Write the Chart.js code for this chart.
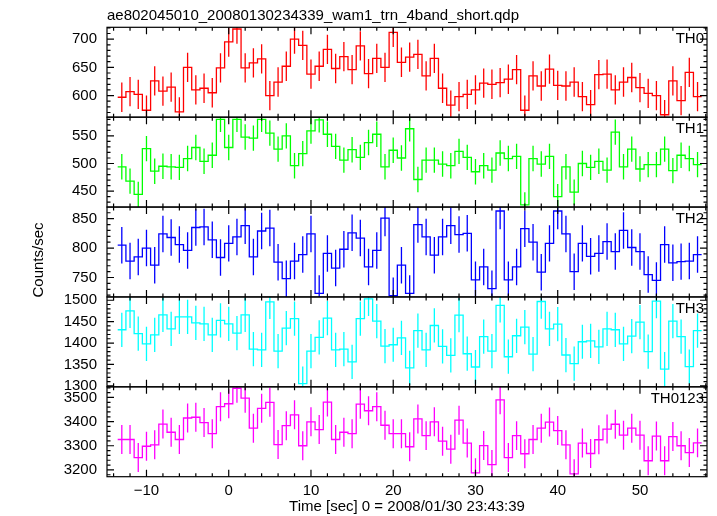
<!DOCTYPE html>
<html>
<head>
<meta charset="utf-8">
<script src="https://cdn.jsdelivr.net/npm/chart.js@4.4.1/dist/chart.umd.min.js"></script>
<style>
html, body { margin: 0; padding: 0; background: #fff; }
canvas { display: block; }
</style>
</head>
<body>
<canvas id="lc" width="717" height="516"></canvas>
<script>
// bin centres (sec), 1 s bins
var times = [-13, -12, -11, -10, -9, -8, -7, -6, -5, -4, -3, -2, -1,
  0, 1, 2, 3, 4, 5, 6, 7, 8, 9, 10, 11, 12, 13, 14, 15, 16, 17, 18, 19,
  20, 21, 22, 23, 24, 25, 26, 27, 28, 29, 30, 31, 32, 33, 34, 35, 36, 37, 38, 39,
  40, 41, 42, 43, 44, 45, 46, 47, 48, 49, 50, 51, 52, 53, 54, 55, 56, 57];
var binHalf = 0.5;

var th0 = [597, 607, 602, 574, 626, 608, 615, 571, 650, 610, 613, 605, 649,
  695, 718, 649, 658, 665, 600, 624, 652, 700, 689,
  638, 652, 682, 648, 669, 646, 688, 639, 666, 650,
  712, 659, 668, 673, 635, 666, 613, 583, 598, 602,
  610, 622, 620, 623, 629, 646, 574, 635, 617, 647,
  618, 617, 624, 598, 584, 637, 638, 610, 624, 632,
  614, 604, 600, 566, 626, 591, 641, 598];
var th1 = [494, 468, 444, 527, 486, 495, 494, 493, 509, 529, 504, 515, 580,
  529, 580, 548, 546, 580, 555, 526, 550, 496, 518,
  559, 579, 553, 531, 506, 525, 511, 538, 553, 494,
  524, 510, 563, 471, 506, 506, 499, 496, 522, 511,
  485, 496, 488, 519, 509, 513, 425, 509, 499, 513,
  440, 494, 448, 500, 493, 504, 488, 557, 494, 526,
  490, 498, 498, 526, 487, 515, 509, 498];
var th2 = [805, 778, 785, 800, 771, 824, 818, 806, 796, 835, 836, 814, 784,
  808, 819, 838, 785, 829, 834, 776, 748, 778, 789,
  824, 723, 791, 766, 798, 826, 817, 768, 796, 851,
  719, 771, 723, 840, 819, 788, 819, 838, 823, 825,
  746, 768, 731, 863, 746, 768, 833, 810, 759, 808,
  863, 824, 760, 808, 786, 791, 811, 794, 830, 801,
  794, 755, 745, 806, 775, 777, 778, 789];
var th3 = [1431, 1475, 1422, 1398, 1419, 1466, 1433, 1461, 1461, 1447, 1445, 1419, 1453,
  1445, 1423, 1466, 1386, 1384, 1496, 1381, 1435, 1457, 1305,
  1381, 1413, 1458, 1384, 1386, 1356, 1457, 1503, 1451, 1393,
  1396, 1412, 1342, 1429, 1384, 1441, 1392, 1371, 1465, 1375,
  1344, 1415, 1381, 1488, 1368, 1417, 1437, 1374, 1497, 1433,
  1444, 1372, 1352, 1403, 1405, 1391, 1433, 1431, 1398, 1416,
  1449, 1380, 1498, 1339, 1451, 1415, 1345, 1429];
var th0123 = [3326, 3326, 3251, 3298, 3304, 3390, 3356, 3326, 3415, 3418, 3396, 3350, 3462,
  3474, 3538, 3497, 3373, 3455, 3480, 3305, 3383, 3428, 3300,
  3399, 3367, 3481, 3326, 3356, 3350, 3472, 3445, 3462, 3385,
  3350, 3350, 3296, 3411, 3342, 3399, 3319, 3286, 3406, 3311,
  3188, 3301, 3222, 3490, 3251, 3342, 3267, 3326, 3373, 3398,
  3363, 3304, 3184, 3311, 3268, 3325, 3369, 3389, 3344, 3373,
  3344, 3238, 3340, 3238, 3338, 3300, 3272, 3312];

// 1-sigma errors (roughly constant per band)
var errs = [26, 23, 31, 40, 60];

var xTicks = [-10, 0, 10, 20, 30, 40, 50];
var yTicks = [[600, 650, 700], [450, 500, 550], [750, 800, 850],
  [1300, 1350, 1400, 1450, 1500], [3200, 3300, 3400, 3500]];
var yMinor = [10, 10, 10, 10, 20];
var yRange = [[561.7, 721], [421, 584], [717, 869.7], [1297.7, 1507.7], [3172, 3544]];

var names = ['TH0', 'TH1', 'TH2', 'TH3', 'TH0123'];
var colors = ['#ff0000', '#00ff00', '#0000ff', '#00ffff', '#ff00ff'];
var series = [th0, th1, th2, th3, th0123];

var FONT = "'Liberation Sans', Arial, Helvetica, sans-serif";

function stepData(vals) {
  var pts = times.map(function (t, i) { return {x: t - binHalf, y: vals[i]}; });
  pts.push({x: times[times.length - 1] + binHalf, y: vals[vals.length - 1]});
  return pts;
}

function errData(vals, e) {
  var pts = [];
  times.forEach(function (t, i) {
    pts.push({x: t, y: vals[i] - e}, {x: t, y: vals[i] + e}, {x: t, y: null});
  });
  return pts;
}

var datasets = [];
var scales = {
  x: {
    type: 'linear', position: 'bottom', min: -14.8, max: 58.15,
    grid: {display: false, drawTicks: false}, border: {display: false},
    afterBuildTicks: function (s) { s.ticks = xTicks.map(function (v) { return {value: v}; }); },
    ticks: {
      color: '#000', font: {family: FONT, size: 15}, padding: 5, maxRotation: 0, autoSkip: false,
      callback: function (v) { return String(v).replace('-', '\u2212'); }
    },
    afterFit: function (s) { s.height = 39.3; }
  }
};

series.forEach(function (vals, i) {
  var id = 'y' + i;
  datasets.push({
    label: names[i], data: stepData(vals), yAxisID: id,
    borderColor: colors[i], borderWidth: 1.3, stepped: true, pointRadius: 0, fill: false
  });
  datasets.push({
    label: names[i] + ' err', data: errData(vals, errs[i]), yAxisID: id,
    borderColor: colors[i], borderWidth: 1.3, pointRadius: 0, fill: false, spanGaps: false
  });
  scales[id] = {
    type: 'linear', position: 'left', stack: 'bands', stackWeight: 1, weight: 5 - i,
    min: yRange[i][0], max: yRange[i][1],
    grid: {display: false, drawTicks: false}, border: {display: false},
    afterBuildTicks: (function (tk) {
      return function (s) { s.ticks = tk.map(function (v) { return {value: v}; }); };
    })(yTicks[i]),
    ticks: {
      color: '#000', font: {family: FONT, size: 15}, padding: 10, autoSkip: false,
      callback: function (v) { return String(v); }
    },
    afterFit: function (s) { s.width = 107; }
  };
});

// keep each band inside its own panel
var clipPanels = {
  id: 'clipPanels',
  beforeDatasetDraw: function (chart, args) {
    var s = chart.scales[args.meta.yAxisID];
    var a = chart.chartArea;
    chart.ctx.save();
    chart.ctx.beginPath();
    chart.ctx.rect(a.left, s.top, a.right - a.left, s.bottom - s.top);
    chart.ctx.clip();
  },
  afterDatasetDraw: function (chart) {
    chart.ctx.restore();
  }
};

// frames, inward tick marks and texts
var frames = {
  id: 'frames',
  afterDraw: function (chart) {
    var ctx = chart.ctx;
    var a = chart.chartArea;
    var xs = chart.scales.x;
    ctx.save();
    ctx.strokeStyle = '#000';
    ctx.lineWidth = 1.2;
    for (var i = 0; i < 5; i++) {
      var s = chart.scales['y' + i];
      ctx.strokeRect(a.left, s.top, a.right - a.left, s.bottom - s.top);
      ctx.beginPath();
      for (var v = -14; v <= 58; v += 2) {
        var px = xs.getPixelForValue(v);
        var len = (v % 10 === 0) ? 7 : 3.5;
        ctx.moveTo(px, s.top); ctx.lineTo(px, s.top + len);
        ctx.moveTo(px, s.bottom); ctx.lineTo(px, s.bottom - len);
      }
      var step = yMinor[i];
      var major = yTicks[i][1] - yTicks[i][0];
      for (var y = Math.ceil(s.min / step) * step; y <= s.max; y += step) {
        var py = s.getPixelForValue(y);
        var l = (y % major === 0) ? 7 : 3.5;
        ctx.moveTo(a.left, py); ctx.lineTo(a.left + l, py);
        ctx.moveTo(a.right, py); ctx.lineTo(a.right - l, py);
      }
      ctx.stroke();

      ctx.fillStyle = '#000';
      ctx.font = '15px ' + FONT;
      ctx.textAlign = 'right';
      ctx.textBaseline = 'alphabetic';
      ctx.fillText(names[i], a.right - 3, s.top + 16);
    }

    ctx.textAlign = 'left';
    ctx.fillText('ae802045010_20080130234339_wam1_trn_4band_short.qdp', a.left, 20);

    ctx.textAlign = 'center';
    ctx.textBaseline = 'middle';
    ctx.fillText('Time [sec] 0 = 2008/01/30 23:43:39', (a.left + a.right) / 2, 507);

    ctx.translate(39, 260);
    ctx.rotate(-Math.PI / 2);
    ctx.fillText('Counts/sec', 0, 0);
    ctx.restore();
  }
};

new Chart(document.getElementById('lc').getContext('2d'), {
  type: 'line',
  data: {datasets: datasets},
  options: {
    responsive: false,
    animation: false,
    devicePixelRatio: 1,
    layout: {padding: {left: 0, right: 10, top: 27.3, bottom: 0}},
    plugins: {legend: {display: false}, tooltip: {enabled: false}, title: {display: false}},
    scales: scales
  },
  plugins: [clipPanels, frames]
});
</script>
</body>
</html>
